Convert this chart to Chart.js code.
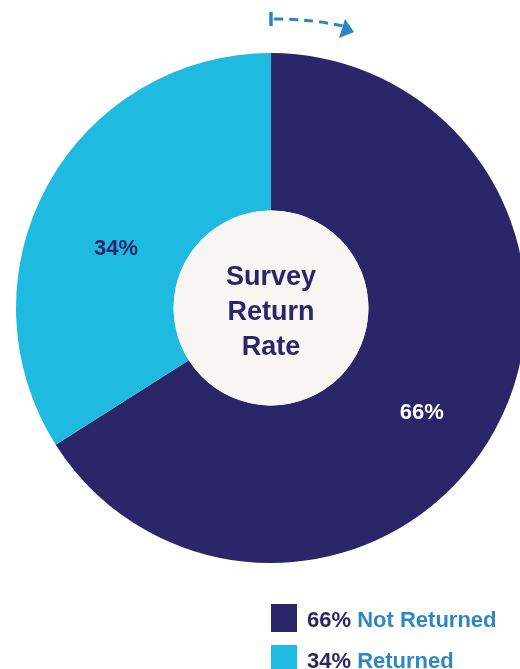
<!DOCTYPE html>
<html>
<head>
<meta charset="utf-8">
<title>Survey Return Rate</title>
<script src="https://cdn.jsdelivr.net/npm/chart.js@4.4.1/dist/chart.umd.min.js"></script>
<style>
  html, body { margin: 0; padding: 0; background: #ffffff; overflow: hidden; width: 520px; height: 669px; }
  #wrap { position: relative; width: 520px; height: 669px; overflow: hidden; }
  #pie { position: absolute; left: 0; top: 0; }
  #legend { position: absolute; left: 271px; top: 604px; font-family: "Liberation Sans", Arial, sans-serif; font-size: 22px; font-weight: bold; }
  .item { position: relative; height: 41px; white-space: nowrap; }
  .swatch { position: absolute; left: 0; top: 0; width: 26px; height: 28px; }
  .txt { position: absolute; left: 36px; top: 3px; line-height: 26px; }
  .pct { color: #2b2669; }
  .name { color: #2e87c5; }
</style>
</head>
<body>
<div id="wrap">
  <canvas id="pie" width="542" height="616"></canvas>
  <div id="legend"></div>
</div>
<script>
// Survey responses, in percent
const categories = ['Not Returned', 'Returned'];
const shares = [66, 34];
const sliceColors = ['#2b2669', '#1fbadf'];
const labelColors = ['#ffffff', '#2b2669'];
const centerLines = ['Survey', 'Return', 'Rate'];

const NAVY = '#2b2669';
const BLUE = '#2b84c4';
const HOLE = '#f8f6f3';

// per-slice nudges for the percentage labels: [angle shift in degrees, fraction of outer radius]
const labelPlacement = [[6, 0.72], [-8, 0.65]];

const holeAndText = {
  id: 'holeAndText',
  afterDatasetsDraw(chart) {
    const ctx = chart.ctx;
    const arcs = chart.getDatasetMeta(0).data;
    const a0 = arcs[0];
    const cx = a0.x, cy = a0.y;
    ctx.save();
    // cream hole
    ctx.beginPath();
    ctx.arc(cx, cy, a0.innerRadius, 0, Math.PI * 2);
    ctx.fillStyle = HOLE;
    ctx.fill();
    // center title
    ctx.fillStyle = NAVY;
    ctx.font = 'bold 27px "Liberation Sans", Arial, sans-serif';
    ctx.textAlign = 'center';
    ctx.textBaseline = 'alphabetic';
    const lh = 35;
    centerLines.forEach((t, i) => {
      ctx.fillText(t, cx, cy - 23 + i * lh);
    });
    // slice percentages
    ctx.font = 'bold 22px "Liberation Sans", Arial, sans-serif';
    ctx.textBaseline = 'middle';
    arcs.forEach((arc, i) => {
      const p = arc.getProps(['x', 'y', 'startAngle', 'endAngle', 'outerRadius'], true);
      const mid = (p.startAngle + p.endAngle) / 2 + labelPlacement[i][0] * Math.PI / 180;
      const r = p.outerRadius * labelPlacement[i][1];
      ctx.fillStyle = labelColors[i];
      ctx.fillText(shares[i] + '%', p.x + Math.cos(mid) * r, p.y + Math.sin(mid) * r);
    });
    ctx.restore();
  }
};

// dashed direction arrow above the pie, showing the clockwise reading order
const directionArrow = {
  id: 'directionArrow',
  afterDraw(chart) {
    const ctx = chart.ctx;
    const cx = chart.getDatasetMeta(0).data[0].x;
    ctx.save();
    ctx.strokeStyle = BLUE;
    ctx.fillStyle = BLUE;
    ctx.lineWidth = 3.5;
    // start tick
    ctx.beginPath();
    ctx.moveTo(cx, 12);
    ctx.lineTo(cx, 26);
    ctx.stroke();
    // dashed shaft
    ctx.lineWidth = 3;
    ctx.setLineDash([9, 6]);
    ctx.beginPath();
    ctx.moveTo(cx + 3, 19);
    ctx.quadraticCurveTo(cx + 40, 19, cx + 72, 26);
    ctx.stroke();
    ctx.setLineDash([]);
    // arrow head
    ctx.beginPath();
    ctx.moveTo(cx + 83, 32);
    ctx.lineTo(cx + 74, 19);
    ctx.lineTo(cx + 68, 38);
    ctx.closePath();
    ctx.fill();
    ctx.restore();
  }
};

new Chart(document.getElementById('pie'), {
  type: 'doughnut',
  data: {
    labels: categories,
    datasets: [{
      data: shares,
      backgroundColor: sliceColors,
      borderWidth: 0,
      hoverOffset: 0
    }]
  },
  options: {
    responsive: false,
    animation: false,
    cutout: '38.2%',
    layout: { padding: 16 },
    plugins: {
      legend: { display: false },
      tooltip: { enabled: false }
    }
  },
  plugins: [holeAndText, directionArrow]
});

// legend below the pie, largest share first
const legend = document.getElementById('legend');
categories.forEach((name, i) => {
  const item = document.createElement('div');
  item.className = 'item';
  item.innerHTML = '<div class="swatch" style="background:' + sliceColors[i] + '"></div>' +
    '<div class="txt"><span class="pct">' + shares[i] + '%</span> <span class="name">' + name + '</span></div>';
  legend.appendChild(item);
});
</script>
</body>
</html>
